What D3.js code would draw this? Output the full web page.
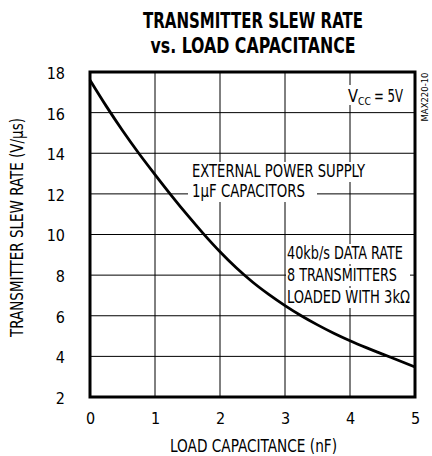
<!DOCTYPE html>
<html><head><meta charset="utf-8">
<script src="https://cdn.jsdelivr.net/npm/d3@7"></script>
<style>body{margin:0;background:#fff}svg{display:block}</style>
</head><body>
<script>
const capacitance = [0, 0.25, 0.5, 0.75, 1, 1.25, 1.5, 1.75, 2, 2.25, 2.5, 2.75, 3, 3.25, 3.5, 3.75, 4, 4.25, 4.5, 4.75, 5];
const slewRate   = [17.6, 16.32, 15.12, 14.0, 12.95, 11.93, 10.95, 10.02, 9.15, 8.36, 7.66, 7.05, 6.5, 6.0, 5.55, 5.14, 4.77, 4.43, 4.11, 3.8, 3.48];
const xTicks = [0, 1, 2, 3, 4, 5];
const yTicks = [2, 4, 6, 8, 10, 12, 14, 16, 18];
const titleLines = ["TRANSMITTER SLEW RATE", "vs. LOAD CAPACITANCE"];
const xLabel = "LOAD CAPACITANCE (nF)";
const yLabel = "TRANSMITTER SLEW RATE (V/\u03BCs)";
const noteA = ["EXTERNAL POWER SUPPLY", "1\u03BCF CAPACITORS"];
const noteB = ["40kb/s DATA RATE", "8 TRANSMITTERS", "LOADED WITH 3k\u03A9"];
const vccParts = ["V", "CC", "= 5V"];
const partNo = "MAX220-10";

const W = 432, H = 456;
const m = {l: 90, t: 72, r: 415, b: 397};
const FONT = "'DejaVu Sans Condensed','Liberation Sans Narrow','Liberation Sans',sans-serif";
const svg = d3.select("body").append("svg").attr("width", W).attr("height", H);
const x = d3.scaleLinear().domain([0, 5]).range([m.l, m.r]);
const y = d3.scaleLinear().domain([2, 18]).range([m.b, m.t]);

function fit(sel, len) {
  return sel.attr("textLength", len).attr("lengthAdjust", "spacingAndGlyphs");
}

// title
const titleLen = [220, 205];
svg.append("g").selectAll("text").data(titleLines).join("text")
  .attr("x", 253).attr("y", (d, i) => 28 + i * 25)
  .attr("text-anchor", "middle").attr("font-family", FONT)
  .attr("font-weight", "bold").attr("font-size", 21).attr("fill", "#000")
  .attr("textLength", (d, i) => titleLen[i]).attr("lengthAdjust", "spacingAndGlyphs")
  .text(d => d);

// grid
const grid = svg.append("g");
grid.selectAll("line.v").data(xTicks.slice(1, -1)).join("line")
  .attr("x1", d => x(d)).attr("x2", d => x(d)).attr("y1", m.t).attr("y2", m.b)
  .attr("stroke", "#000").attr("stroke-width", 1);
grid.selectAll("line.h").data(yTicks.slice(1, -1)).join("line")
  .attr("x1", m.l).attr("x2", m.r).attr("y1", d => y(d)).attr("y2", d => y(d))
  .attr("stroke", "#000").attr("stroke-width", 1);

// axes (labels)
const xAxis = d3.axisBottom(x).tickValues(xTicks).tickSize(0).tickPadding(16).tickFormat(d3.format("d"));
const gx = svg.append("g").attr("transform", `translate(0,${m.b})`).call(xAxis);
gx.select(".domain").remove();
gx.selectAll("text").attr("font-family", FONT).attr("font-size", 16).attr("fill", "#000");
const yAxis = d3.axisLeft(y).tickValues(yTicks).tickSize(0).tickPadding(25).tickFormat(d3.format("d"));
const gy = svg.append("g").attr("transform", `translate(${m.l},0)`).call(yAxis);
gy.select(".domain").remove();
gy.selectAll("text").attr("font-family", FONT).attr("font-size", 16).attr("fill", "#000").attr("dy", "0.4em");

fit(svg.append("text").attr("x", 253.5).attr("y", 452).attr("text-anchor", "middle")
  .attr("font-family", FONT).attr("font-size", 18).text(xLabel), 167);
fit(svg.append("text").attr("transform", `translate(23,227.5) rotate(-90)`)
  .attr("text-anchor", "middle").attr("font-family", FONT).attr("font-size", 18).text(yLabel), 219);

// notes with white backgrounds
function note(lines, x0, baselines, lens, padL, padR) {
  const g = svg.append("g");
  lines.forEach((s, i) => {
    const bg = g.append("rect").attr("fill", "#fff");
    const t = fit(g.append("text").attr("x", x0).attr("y", baselines[i])
      .attr("font-family", FONT).attr("font-size", 17).attr("fill", "#000").text(s), lens[i]);
    const b = t.node().getBBox();
    bg.attr("x", b.x - padL).attr("y", b.y + 1).attr("width", b.width + padL + padR).attr("height", b.height);
  });
}
note(noteA, 192, [177, 197], [173, 113], 4, 12);
note(noteB, 287, [259, 281, 303], [116, 110, 123], 1, 13);

// Vcc label (separate pieces)
{
  const g = svg.append("g");
  g.append("rect").attr("fill", "#fff").attr("x", 347).attr("y", 85).attr("width", 58).attr("height", 20);
  const px = [348, 358, 374], py = [102, 105, 102], ps = [17, 11, 17], pl = [10, 13, 29];
  vccParts.forEach((s, i) => {
    fit(g.append("text").attr("x", px[i]).attr("y", py[i]).attr("font-family", FONT)
      .attr("font-size", ps[i]).attr("fill", "#000").text(s), pl[i]);
  });
}

// curve
svg.append("path").datum(capacitance.map((c, i) => [c, slewRate[i]]))
  .attr("fill", "none").attr("stroke", "#000").attr("stroke-width", 2.8)
  .attr("d", d3.line().x(d => x(d[0])).y(d => y(d[1])).curve(d3.curveMonotoneX));

// frame
svg.append("rect").attr("x", m.l).attr("y", m.t).attr("width", m.r - m.l).attr("height", m.b - m.t)
  .attr("fill", "none").attr("stroke", "#000").attr("stroke-width", 3);

// part number
fit(svg.append("text").attr("transform", `translate(428,97) rotate(-90)`).attr("text-anchor", "middle")
  .attr("font-family", FONT).attr("font-size", 9).text(partNo), 49);
</script>
</body></html>
